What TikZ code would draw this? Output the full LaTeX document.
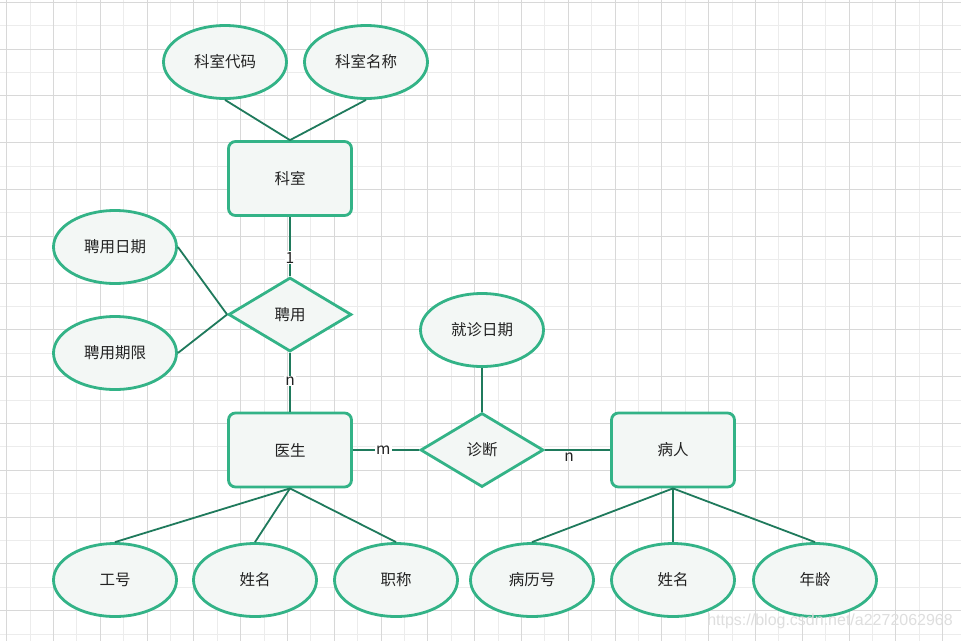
\documentclass[tikz,border=0pt]{standalone}
\usepackage{fontspec}
\setmainfont{Noto Sans CJK SC}
\newfontfamily\wmfont{Liberation Sans}
\usetikzlibrary{shapes.geometric}
\definecolor{shapeg}{HTML}{33B387}
\definecolor{lineg}{HTML}{1F7A5C}
\definecolor{fillg}{HTML}{F3F7F5}
\definecolor{gridd}{HTML}{D8D8D8}
\definecolor{gridl}{HTML}{ECECEC}
\definecolor{txt}{HTML}{222222}
\begin{document}
\begin{tikzpicture}[x=1pt,y=-1pt,
  ent/.style={draw=shapeg, line width=2.8pt, fill=fillg, rounded corners=7pt, minimum width=123pt, minimum height=74pt, inner sep=0pt, text=txt, font=\fontsize{15.5}{18}\selectfont},
  attr/.style={ellipse, draw=shapeg, line width=2.8pt, fill=fillg, minimum width=123pt, minimum height=73pt, inner sep=0pt, text=txt, font=\fontsize{15.5}{18}\selectfont},
  rel/.style={diamond, draw=shapeg, line width=2.8pt, fill=fillg, minimum width=123pt, minimum height=74pt, inner sep=0pt, text=txt, font=\fontsize{15.5}{18}\selectfont},
  conn/.style={draw=lineg, line width=1.8pt},
  card/.style={fill=white, inner sep=1pt, text=txt, font=\fontsize{15.5}{15}\selectfont},
  cardnf/.style={inner sep=1pt, text=txt, font=\fontsize{15.5}{15}\selectfont}
]
\useasboundingbox[fill=white] (0,0) rectangle (961,641);
% grid
\foreach \k in {1,3,...,39} {\draw[gridl, line width=1pt] ({6.7+23.4*\k},0) -- ({6.7+23.4*\k},641);}
\foreach \k in {1,3,...,27} {\draw[gridl, line width=1pt] (0,{2.3+23.4*\k}) -- (961,{2.3+23.4*\k});}
\foreach \k in {0,2,...,40} {\draw[gridd, line width=1pt] ({6.7+23.4*\k},0) -- ({6.7+23.4*\k},641);}
\foreach \k in {0,2,...,26} {\draw[gridd, line width=1pt] (0,{2.3+23.4*\k}) -- (961,{2.3+23.4*\k});}

% nodes
\node[attr] (kdm) at (225,62) {科室代码};
\node[attr] (kmc) at (366,62) {科室名称};
\node[ent] (ks) at (290,178.5) {科室};
\node[rel] (py) at (290,314.5) {聘用};
\node[attr] (pyrq) at (115,247) {聘用日期};
\node[attr] (pyqx) at (115,353) {聘用期限};
\node[ent] (ys) at (290,450) {医生};
\node[rel] (zd) at (482,450) {诊断};
\node[attr] (jzrq) at (482,330) {就诊日期};
\node[ent] (br) at (673,450) {病人};
\node[attr] (gh) at (115,580) {工号};
\node[attr] (xm1) at (255,580) {姓名};
\node[attr] (zc) at (396,580) {职称};
\node[attr] (blh) at (532,580) {病历号};
\node[attr] (xm2) at (673,580) {姓名};
\node[attr] (nl) at (815,580) {年龄};

% connectors
\draw[conn] (kdm.south) -- (ks.north);
\draw[conn] (kmc.south) -- (ks.north);
\draw[conn] (pyrq.east) -- (py.west);
\draw[conn] (pyqx.east) -- (py.west);
\draw[conn] (ks.south) -- node[card, pos=0.69] (c1) {1} (py.north);
\draw[conn] (py.south) -- node[card, pos=0.48] (c2) {n} (ys.north);
\draw[conn] (ys.east) -- node[card, pos=0.46] (c3) {m} (zd.west);
\draw[conn] (zd.east) -- node[cardnf, pos=0.37, yshift=-7pt] (c4) {n} (br.west);
\draw[conn] (jzrq.south) -- (zd.north);
\draw[conn] (ys.south) -- (gh.north);
\draw[conn] (ys.south) -- (xm1.north);
\draw[conn] (ys.south) -- (zc.north);
\draw[conn] (br.south) -- (blh.north);
\draw[conn] (br.south) -- (xm2.north);
\draw[conn] (br.south) -- (nl.north);

% watermark
\node[text=black!13, font=\wmfont\fontsize{16}{16}\selectfont, anchor=east, inner sep=0pt] (wm) at (953,621) {https://blog.csdn.net/a2272062968};
\end{tikzpicture}
\end{document}
